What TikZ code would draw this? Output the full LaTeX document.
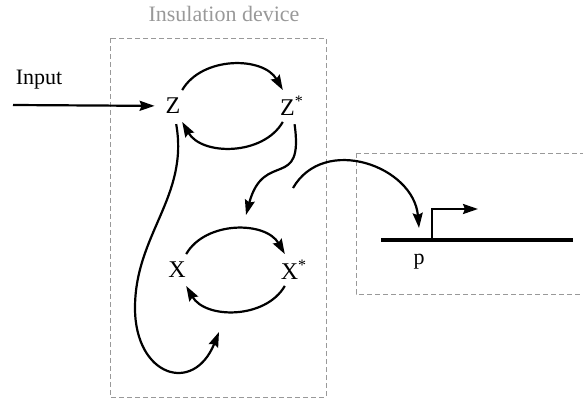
\documentclass[tikz,border=0pt]{standalone}
\usepackage{fontspec}
\setmainfont{Liberation Serif}
\usetikzlibrary{arrows.meta}

\begin{document}
\begin{tikzpicture}[x=0.5pt, y=0.5pt, font=\fontsize{11}{13}\selectfont,
    species/.style={circle, minimum size=18pt, inner sep=0pt, font=\fontsize{12}{14}\selectfont},
    react/.style={line width=1.1pt, -{Stealth[length=7.5pt,width=5pt,inset=1pt]}},
    devbox/.style={draw=black!40, line width=0.5pt, dash pattern=on 2.5pt off 1.5pt}]
    \useasboundingbox (0,0) rectangle (584,398);
    % insulation device and target
    \draw[devbox] (110,360) rectangle (326,1);
    \draw[devbox] (356,245) -- (583,245);
    \draw[devbox] (356,245) -- (356,104) -- (583,104);
    \node[text=black!40] (title) at (224,384) {Insulation device};
    \node[species] (Z) at (173,292) {Z};
    \node[species] (Zs) at (292,292) {Z\textsuperscript{*}};
    \node[species] (X) at (177,128) {X};
    \node[species] (Xs) at (294,128) {X\textsuperscript{*}};
    \node (input) at (39,318) {Input};
    \coordinate (src) at (13,293);
    \coordinate (zx) at (246,183);
    \coordinate (loop) at (135,90);
    \coordinate (back) at (219,66);
    \coordinate (xo) at (293,210);
    \coordinate (tgt) at (419,170);
    \draw[react] (src) -- (Z);
    \draw[react] (Z) to[bend left=60] (Zs);
    \draw[react] (Zs) to[bend left=60] (Z);
    \draw[react] (X) to[bend left=60] (Xs);
    \draw[react] (Xs) to[bend left=60] (X);
    \draw[react] (Zs) to[out=-82, in=75, looseness=1.7] (zx);
    \draw[react] (Z) to[out=-80, in=90] (loop) to[out=-90, in=-112, looseness=2] (back);
    \draw[react] (xo) to[out=60, in=95, looseness=1.2] (tgt);
    % promoter
    \coordinate (dnaL) at (381,158);
    \coordinate (dnaR) at (573,158);
    \coordinate (pb) at (432,158);
    \draw[line width=1.6pt] (dnaL) -- (dnaR);
    \draw[line width=1.1pt, -{Stealth[length=7.5pt,width=5pt,inset=1pt]}] (pb) |- (478,189);
    \node (p) at (419,136) {p};
\end{tikzpicture}
\end{document}
